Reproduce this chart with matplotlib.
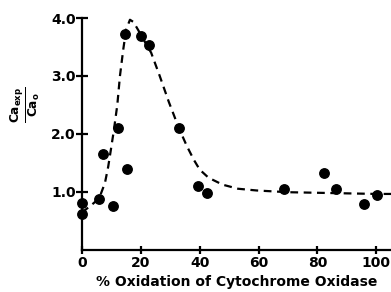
import matplotlib
matplotlib.use("Agg")
import matplotlib.pyplot as plt

# ---------------------------------------------------------------------
# Data
# ---------------------------------------------------------------------

# measured points (% oxidation, Ca_exp / Ca_0)
oxidation = [0, 0, 5.8, 7.2, 10.6, 12.3, 14.6, 15.2, 20.2, 22.6, 32.9,
             39.4, 42.6, 68.5, 82.1, 86.4, 95.8, 100.4]
ca_ratio = [0.81, 0.61, 0.875, 1.65, 0.76, 2.10, 3.72, 1.39, 3.69, 3.53, 2.10,
            1.10, 0.97, 1.04, 1.33, 1.05, 0.79, 0.94]

# dashed fitted curve, traced by eye
curve_x = [0, 3, 5.8, 7.8, 8.9, 9.8, 10.8, 12.0, 12.9, 14.0, 15.0, 16.3,
           17.5, 19.0, 21.0, 23.5, 26.4, 29.5, 32.9, 35.6, 38.0, 40.0,
           43.0, 47.8, 53.0, 59.3, 70.0, 80.0, 90.0, 100.0, 105.0]
curve_y = [0.64, 0.76, 0.88, 1.15, 1.43, 1.72, 2.05, 2.50, 3.00, 3.45, 3.80, 3.97,
           3.93, 3.80, 3.62, 3.40, 3.00, 2.55, 2.10, 1.79, 1.55, 1.38,
           1.24, 1.12, 1.05, 1.02, 0.99, 0.98, 0.97, 0.96, 0.96]

x_ticks = [0, 20, 40, 60, 80, 100]
y_ticks = [1.0, 2.0, 3.0, 4.0]
y_tick_labels = ["1.0", "2.0", "3.0", "4.0"]

x_label = "% Oxidation of Cytochrome Oxidase"
y_label = r"$\frac{Ca_{exp}}{Ca_o}$"

# ---------------------------------------------------------------------
# Plot
# ---------------------------------------------------------------------

plt.rcParams["font.family"] = "DejaVu Sans"
plt.rcParams["font.weight"] = "bold"
plt.rcParams["mathtext.fontset"] = "custom"
plt.rcParams["mathtext.rm"] = "DejaVu Sans:bold"
plt.rcParams["mathtext.it"] = "DejaVu Sans:bold"

fig = plt.figure(figsize=(3.91, 2.92), dpi=100)
ax = fig.add_axes([82 / 391, 1 - 249.5 / 292, 1 - 82 / 391, (249.5 - 18) / 292])

ax.plot(curve_x, curve_y, color="black", linestyle=(0, (3.5, 2.5)), linewidth=1.6,
        clip_on=False)
ax.plot(oxidation, ca_ratio, "o", color="black", markersize=6.8, clip_on=False)

ax.set_xlim(0, 105)
ax.set_ylim(0, 4.0)

for side in ["top", "right"]:
    ax.spines[side].set_visible(False)
for side in ["left", "bottom"]:
    ax.spines[side].set_linewidth(1.6)

ax.set_xticks(x_ticks)
ax.set_yticks(y_ticks)
ax.set_yticklabels(y_tick_labels)
ax.tick_params(axis="y", direction="inout", length=9, width=1.6, pad=0, labelsize=10)
ax.tick_params(axis="x", direction="inout", length=6, width=1.6, pad=2, labelsize=10)

ax.set_xlabel(x_label, fontsize=10, fontweight="bold", labelpad=3)
fig.text(25 / 391, 1 - 105 / 292, y_label, rotation=90, fontsize=12.5,
         ha="center", va="center")

fig.savefig("out.png", dpi=100)
